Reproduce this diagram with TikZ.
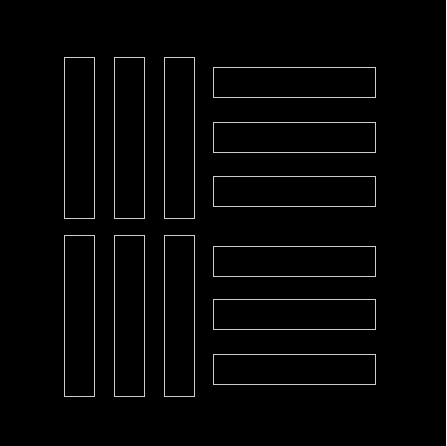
\documentclass[tikz,border=0pt]{standalone}
\usepackage{tikz}

\begin{document}
\begin{tikzpicture}[x=1pt,y=-1pt]
        \tikzstyle{every node}=[draw=white!80!black, line width=0.6pt, rectangle, inner sep=0pt]
        \tikzstyle{upright}=[minimum width=30pt, minimum height=161pt]
        \tikzstyle{flat}=[minimum width=162pt, minimum height=30pt]

        \fill[black] (0,0) rectangle (446,446);
        \useasboundingbox (0,0) rectangle (446,446);

        % standing bars, top and bottom block
        \foreach \i/\x in {1/79,2/129,3/179}{
            \node[upright](top\i)at(\x,137.8){};
            \node[upright](bot\i)at(\x,315.3){};
        }

        % lying bars on the right
        \foreach \i/\y in {1/82,2/137.5,3/191.3,4/261.5,5/314,6/369}{
            \node[flat](row\i)at(294.5,\y){};
        }
    \end{tikzpicture}
\end{document}
